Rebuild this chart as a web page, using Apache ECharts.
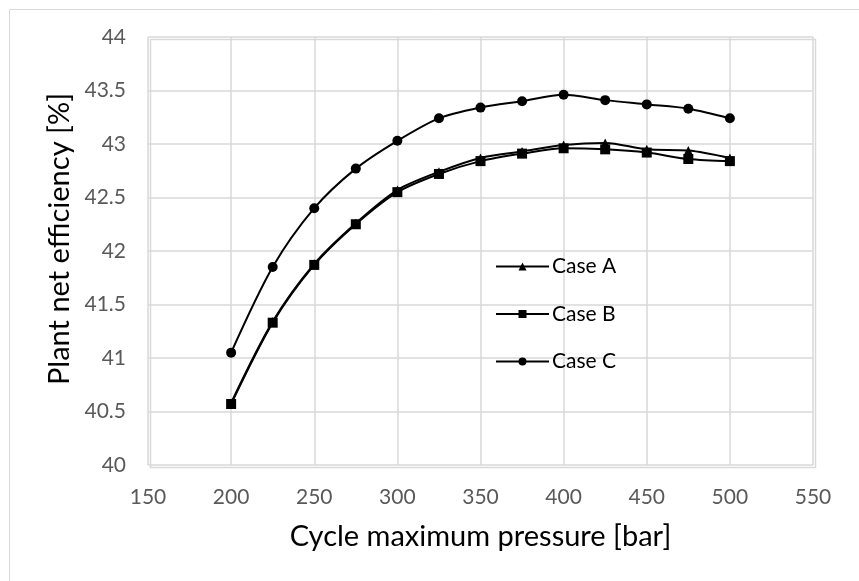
<!DOCTYPE html>
<html><head><meta charset="utf-8">
<script src="https://cdn.jsdelivr.net/npm/echarts@6/dist/echarts.min.js"></script>
<style>html,body{margin:0;padding:0;background:#fff}#c{width:859px;height:581px}</style>
</head><body><div id="c"></div>
<script>
const pressures = [200,225,250,275,300,325,350,375,400,425,450,475,500];
const caseA = [40.58,41.34,41.88,42.26,42.57,42.74,42.87,42.93,42.99,43.01,42.95,42.94,42.87];
const caseB = [40.57,41.33,41.87,42.25,42.55,42.72,42.84,42.91,42.96,42.95,42.92,42.86,42.84];
const caseC = [41.05,41.85,42.40,42.77,43.03,43.24,43.34,43.40,43.46,43.41,43.37,43.33,43.24];
const seriesNames = ['Case A','Case B','Case C'];
const xTitle = 'Cycle maximum pressure [bar]';
const yTitle = 'Plant net efficiency [%]';
const FONT = 'Lato';
const chart = echarts.init(document.getElementById('c'));
function mk(name, vals, symbol, size){
  return {name, type:'line', smooth:0.3, symbol, symbolSize:size, showSymbol:true,
    data: pressures.map((p,i)=>[p, vals[i]]),
    lineStyle:{color:'#000', width:2}, itemStyle:{color:'#000'}, z:3};
}
chart.setOption({
  animation:false,
  textStyle:{fontFamily:FONT},
  grid:{left:148, top:37, right:46, bottom:116, containLabel:false},
  xAxis:{type:'value', min:150, max:550, interval:50,
    name:xTitle, nameLocation:'middle', nameGap:57,
    nameTextStyle:{fontSize:29, color:'#000', fontFamily:FONT},
    axisLine:{show:false}, axisTick:{show:false},
    axisLabel:{fontSize:21, color:'#595959', margin:22, fontFamily:FONT},
    splitLine:{show:true, lineStyle:{color:'#d9d9d9', width:1.5}}},
  yAxis:{type:'value', min:40, max:44, interval:0.5,
    axisLine:{show:false}, axisTick:{show:false},
    axisLabel:{fontSize:21, color:'#595959', margin:22, fontFamily:FONT},
    splitLine:{show:true, lineStyle:{color:'#d9d9d9', width:1.5}}},
  legend:{orient:'vertical', left:490, top:251, itemGap:26.5, itemWidth:53, itemHeight:10,
    data:seriesNames, textStyle:{fontSize:21, color:'#000', fontFamily:FONT, padding:[0,0,0,-2]}},
  graphic:[
    {type:'rect', left:7, top:7, shape:{width:900, height:600}, style:{fill:'none', stroke:'#d9d9d9', lineWidth:1}, silent:true, z:-1},
    {type:'rect', left:148, top:37, shape:{width:665, height:428}, style:{fill:'none', stroke:'#d9d9d9', lineWidth:1.5}, silent:true},
    {type:'text', x:60, y:239, rotation:Math.PI/2, style:{text:yTitle, fontSize:29, fill:'#000', fontFamily:FONT, align:'center', verticalAlign:'middle'}}
  ],
  series:[ mk(seriesNames[0], caseA, 'triangle', 9), mk(seriesNames[1], caseB, 'rect', 10), mk(seriesNames[2], caseC, 'circle', 10) ]
});
</script></body></html>
